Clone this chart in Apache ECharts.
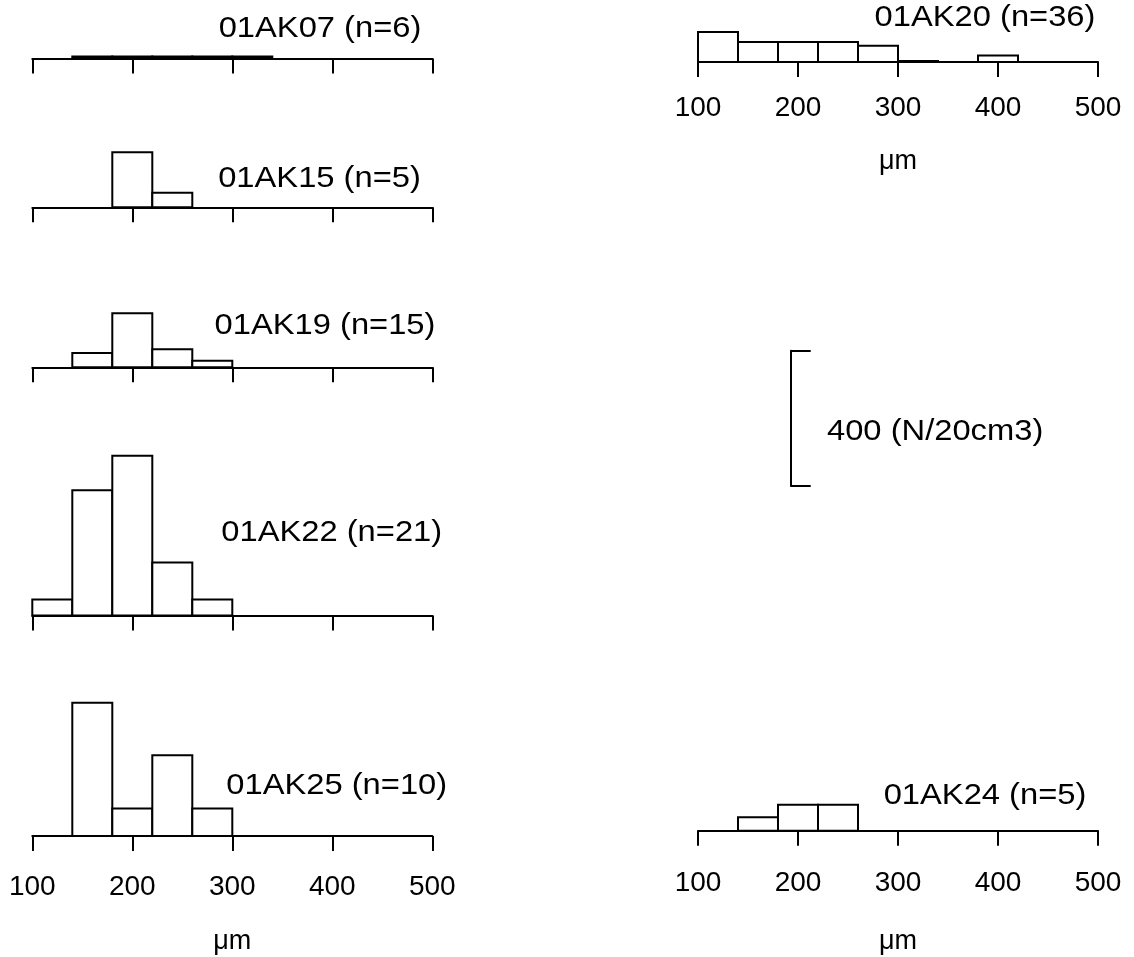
<!DOCTYPE html>
<html><head><meta charset="utf-8">
<script src="https://cdn.jsdelivr.net/npm/echarts@6/dist/echarts.min.js"></script>
<style>html,body{margin:0;padding:0;background:#fff}#c{width:1134px;height:957px}</style>
</head><body><div id="c"></div>
<script>
// ---- data ----
const binStarts = [100, 140, 180, 220, 260, 300, 340, 380, 420, 460];
const binWidth = 40;
const tickValues = [100, 200, 300, 400, 500];
const ak07 = [0, 6, 6, 6, 6, 6, 0, 0, 0, 0];
const ak15 = [0, 0, 163, 43, 0, 0, 0, 0, 0, 0];
const ak19 = [0, 42, 160, 53, 19, 0, 0, 0, 0, 0];
const ak22 = [47, 370, 472, 157, 47, 0, 0, 0, 0, 0];
const ak25 = [0, 394, 81, 239, 81, 0, 0, 0, 0, 0];
const ak20 = [89, 59, 59, 59, 48, 3, 0, 19, 0, 0];
const ak24 = [0, 40, 77, 77, 0, 0, 0, 0, 0, 0];
const panelLabels = ['01AK07 (n=6)', '01AK15 (n=5)', '01AK19 (n=15)', '01AK22 (n=21)', '01AK25 (n=10)', '01AK20 (n=36)', '01AK24 (n=5)'];
const scaleBarValue = 400;
const scaleBarLabel = '400 (N/20cm3)';
const axisName = 'μm';

// ---- layout ----
const FONT = "'Liberation Sans', Arial, Helvetica, sans-serif";
const pxPerUnit = 135.3 / 400;
const series = [ak07, ak15, ak19, ak22, ak25, ak20, ak24];
const panels = [
  {left: 32.3, axisY: 58.5, h: 50, labels: false, lx: 320, ly: 28.5},
  {left: 32.3, axisY: 207.3, h: 140, labels: false, lx: 319.5, ly: 178.5},
  {left: 32.3, axisY: 367.3, h: 140, labels: false, lx: 325, ly: 325.5},
  {left: 32.3, axisY: 615.5, h: 180, labels: false, lx: 331.7, ly: 533},
  {left: 32.3, axisY: 836, h: 180, labels: true, margin: 37, nameGap: 92, lx: 336.7, ly: 786},
  {left: 698, axisY: 62, h: 50, labels: true, margin: 32, nameGap: 86, lx: 985, ly: 18},
  {left: 698, axisY: 830.7, h: 180, labels: true, margin: 39, nameGap: 97, lx: 985, ly: 796}
];

const grids = [], xAxes = [], yAxes = [], seriesOpts = [], graphics = [];
panels.forEach((p, i) => {
  grids.push({left: p.left, width: 400, top: p.axisY - p.h, height: p.h, containLabel: false});
  xAxes.push({
    gridIndex: i, type: 'value', min: 100, max: 500, interval: 100,
    axisLine: {show: true, onZero: false, lineStyle: {color: '#000', width: 2}},
    axisTick: {show: true, length: 15, lineStyle: {color: '#000', width: 2}},
    axisLabel: {show: p.labels, margin: p.margin || 8, color: '#000', fontSize: 28, fontFamily: FONT,
      showMinLabel: true, showMaxLabel: true},
    splitLine: {show: false},
    name: p.labels ? axisName : '', nameLocation: 'middle', nameGap: p.nameGap || 0,
    nameTextStyle: {color: '#000', fontSize: 27, fontFamily: FONT}
  });
  yAxes.push({gridIndex: i, type: 'value', min: 0, max: p.h / pxPerUnit, show: false});
  const data = series[i].map((v, k) => [binStarts[k], binStarts[k] + binWidth, v]);
  seriesOpts.push({
    type: 'custom', xAxisIndex: i, yAxisIndex: i, data: data, silent: true, z: 3,
    renderItem: function (params, api) {
      const v = api.value(2);
      if (!(v > 0)) return null;
      const p0 = api.coord([api.value(0), 0]);
      const p1 = api.coord([api.value(1), v]);
      return {type: 'rect', shape: {x: p0[0], y: p1[1], width: p1[0] - p0[0], height: p0[1] - p1[1]},
        style: {fill: '#fff', stroke: '#000', lineWidth: 2}};
    }
  });
  graphics.push({type: 'text', x: p.lx, y: p.ly, scaleX: 1.09, style: {text: panelLabels[i], fill: '#000',
    font: '30px ' + FONT, textAlign: 'center', textVerticalAlign: 'middle'}});
});

// scale bar as its own axis
const sb = panels.length;
grids.push({left: 790.7, width: 20, top: 350.7, height: scaleBarValue * pxPerUnit});
xAxes.push({gridIndex: sb, type: 'value', min: 0, max: 1, show: false});
yAxes.push({gridIndex: sb, type: 'value', min: 0, max: scaleBarValue, interval: scaleBarValue,
  axisLine: {show: true, lineStyle: {color: '#000', width: 2}},
  axisTick: {show: true, inside: true, length: 20, lineStyle: {color: '#000', width: 2}},
  axisLabel: {show: false}, splitLine: {show: false}});
graphics.push({type: 'text', x: 827, y: 432, scaleX: 1.09, style: {text: scaleBarLabel, fill: '#000',
  font: '30px ' + FONT, textAlign: 'left', textVerticalAlign: 'middle'}});

const chart = echarts.init(document.getElementById('c'), null, {renderer: 'canvas'});
chart.setOption({
  animation: false,
  backgroundColor: '#fff',
  grid: grids, xAxis: xAxes, yAxis: yAxes, series: seriesOpts, graphic: graphics
});
</script></body></html>
